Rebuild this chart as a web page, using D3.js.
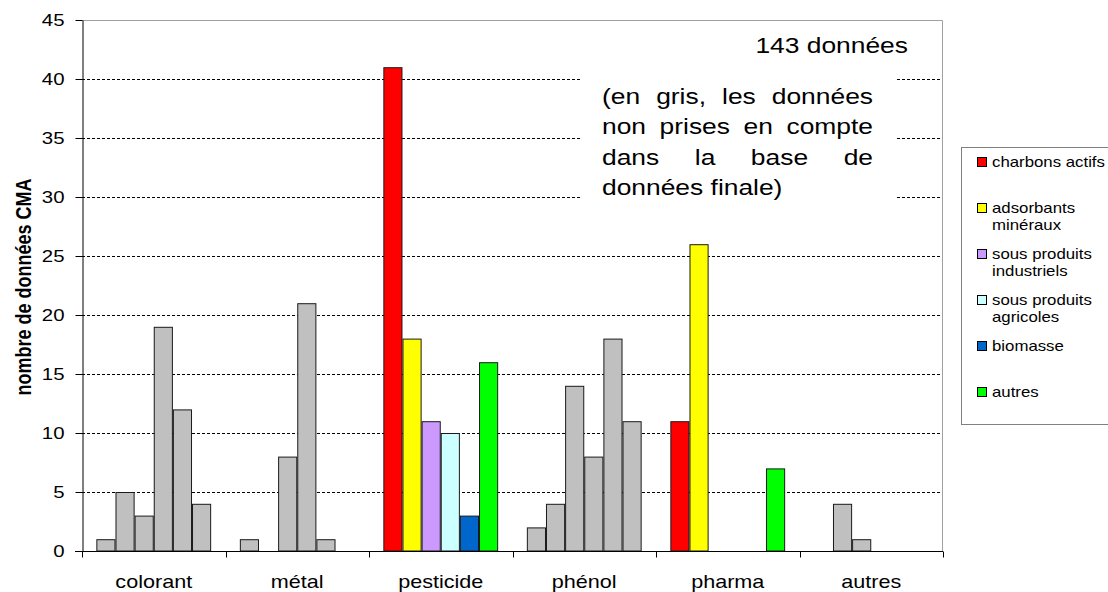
<!DOCTYPE html>
<html>
<head>
<meta charset="utf-8">
<script src="https://cdn.jsdelivr.net/npm/d3@7"></script>
<style>
  body { margin: 0; background: #fff; }
  text { font-family: "Liberation Sans", Arial, sans-serif; fill: #000; }
</style>
</head>
<body>
<div id="chart"></div>
<script>
"use strict";

// data
const categories = ["colorant", "métal", "pesticide", "phénol", "pharma", "autres"];
const seriesNames = ["charbons actifs", "adsorbants minéraux", "sous produits industriels",
                     "sous produits agricoles", "biomasse", "autres"];
const legendLines = [["charbons actifs"], ["adsorbants", "minéraux"],
                     ["sous produits", "industriels"], ["sous produits", "agricoles"],
                     ["biomasse"], ["autres"]];
const charbonsActifs          = [1, 1, 41, 2, 11, 0];
const adsorbantsMineraux      = [5, 0, 18, 4, 26, 4];
const sousProduitsIndustriels = [3, 8, 11, 14, 0, 1];
const sousProduitsAgricoles   = [19, 21, 10, 8, 0, 0];
const biomasse                = [12, 1, 3, 18, 0, 0];
const autres                  = [4, 0, 16, 11, 7, 0];
// grey bars = not kept in the final database
const retained = [false, false, true, false, true, false];
const yTicks = [0, 5, 10, 15, 20, 25, 30, 35, 40, 45];
const noteLines = ["(en gris, les données", "non prises en compte",
                   "dans la base de", "données finale)"];
const yTitle = "nombre de données CMA";

// styles
const seriesColors = ["#ff0000", "#ffff00", "#cc99ff", "#ccffff", "#0066cc", "#00ff00"];
const greyColor = "#c0c0c0";
const SX = 1.2; // the original picture is stretched horizontally

const margin = {
    top   : 20,
    right : 165,
    bottom: 41,
    left  : 82
};
const W = 1108, H = 592;
const width = W - margin.left - margin.right;
const height = H - margin.top - margin.bottom;

const series = [charbonsActifs, adsorbantsMineraux, sousProduitsIndustriels,
                sousProduitsAgricoles, biomasse, autres];
const bars = [];
categories.forEach((c, ci) => series.forEach((s, si) => {
    if (s[ci] > 0) bars.push({ cat: c, ci, si, value: s[ci] });
}));
const total = d3.sum(bars.filter(d => retained[d.ci]), d => d.value);

const x0 = d3.scaleBand()
             .domain(categories)
             .range([0, width])
             .padding(0);
const x1 = d3.scaleBand()
             .domain(d3.range(seriesNames.length))
             .range([0, x0.bandwidth()])
             .paddingInner(0)
             .paddingOuter(0.75);
const y = d3.scaleLinear()
            .domain([0, 45])
            .range([height, 0]);

const svg = d3.select("#chart").append("svg")
              .attr("width", W)
              .attr("height", H);
const plot = svg.append("g")
                .attr("transform", `translate(${margin.left}, ${margin.top})`);

// dashed grid
plot.append("g")
    .selectAll("line")
    .data(yTicks.filter(t => t > 0 && t < 45))
    .join("line")
    .attr("x1", 0)
    .attr("x2", width)
    .attr("y1", d => Math.round(y(d)) + 0.5)
    .attr("y2", d => Math.round(y(d)) + 0.5)
    .attr("stroke", "#000")
    .attr("stroke-width", 1)
    .attr("stroke-dasharray", "3,2");

// white box behind the note
const noteX = 520, noteY = 50;
plot.append("rect")
    .attr("x", noteX - 20)
    .attr("y", noteY)
    .attr("width", 313)
    .attr("height", 145)
    .attr("fill", "#fff");

// bars
plot.append("g")
    .selectAll("rect")
    .data(bars)
    .join("rect")
    .attr("x", d => x0(d.cat) + x1(d.si) + 0.5)
    .attr("y", d => y(d.value) + 0.5)
    .attr("width", x1.bandwidth() - 1)
    .attr("height", d => y(0) - y(d.value) - 0.5)
    .attr("fill", d => retained[d.ci] ? seriesColors[d.si] : greyColor)
    .attr("stroke", "#1a1a1a")
    .attr("stroke-width", 1);

// frame (top / right)
plot.append("path")
    .attr("d", `M0,0.5H${width - 0.5}V${height}`)
    .attr("fill", "none")
    .attr("stroke", "#a0a0a0");

// y axis
const yAxis = plot.append("g")
                  .attr("transform", "translate(0.5, 0)")
                  .call(d3.axisLeft(y).tickValues(yTicks).tickSize(7).tickSizeOuter(0));
yAxis.select(".domain").attr("stroke", "#000");
yAxis.selectAll("text")
     .attr("x", -18 / SX)
     .attr("transform", `scale(${SX},1)`)
     .style("font-size", "17px")
     .style("font-family", "'Liberation Sans', Arial, sans-serif");

// x axis
const xAxis = plot.append("g")
                  .attr("transform", `translate(0, ${height + 0.5})`);
xAxis.append("line")
     .attr("x1", -7)
     .attr("x2", width)
     .attr("stroke", "#000");
xAxis.selectAll("line.tick")
     .data(categories.map(c => x0(c)).concat(width))
     .join("line")
     .attr("class", "tick")
     .attr("x1", d => Math.round(d) + 0.5)
     .attr("x2", d => Math.round(d) + 0.5)
     .attr("y1", 0)
     .attr("y2", 6)
     .attr("stroke", "#000");
xAxis.selectAll("text")
     .data(categories)
     .join("text")
     .attr("text-anchor", "middle")
     .attr("transform", d => `translate(${x0(d) + x0.bandwidth() / 2}, 36) scale(${SX},1)`)
     .style("font-size", "18px")
     .text(d => d);

// y title
svg.append("text")
   .attr("transform", `translate(31, 287) scale(${SX},1) rotate(-90)`)
   .attr("text-anchor", "middle")
   .style("font-size", "18px")
   .style("font-weight", "bold")
   .text(yTitle);

// total label
plot.append("text")
    .attr("transform", `translate(${826}, 33) scale(${SX},1)`)
    .attr("text-anchor", "end")
    .style("font-size", "22px")
    .text(`${total} données`);

// justified note
const justify = (g, lines, lineWidth, lineHeight) => {
    lines.forEach((line, i) => {
        const row = g.append("g")
                     .attr("transform", `translate(0, ${i * lineHeight})`);
        if (i === lines.length - 1) {
            row.append("text").text(line);
            return;
        }
        const words = line.split(" ");
        const texts = words.map(w => row.append("text").text(w));
        const widths = texts.map(t => t.node().getComputedTextLength());
        const gap = (lineWidth - d3.sum(widths)) / (words.length - 1);
        let x = 0;
        texts.forEach((t, j) => {
            t.attr("x", x);
            x += widths[j] + gap;
        });
    });
};
const note = plot.append("g")
                 .attr("transform", `translate(${noteX}, 84) scale(${SX},1)`)
                 .style("font-size", "22px");
justify(note, noteLines, 271 / SX, 30.3);

// legend
const legend = svg.append("g")
                  .attr("transform", "translate(961, 147)");
legend.append("rect")
      .attr("x", 0.5)
      .attr("y", 0.5)
      .attr("width", 170)
      .attr("height", 277)
      .attr("fill", "#fff")
      .attr("stroke", "#808080");
const items = legend.selectAll("g.item")
                    .data(legendLines)
                    .join("g")
                    .attr("class", "item")
                    .attr("transform", (d, i) => `translate(16, ${15 + i * 46})`);
items.append("rect")
     .attr("x", 0.5)
     .attr("y", -4.5)
     .attr("width", 9)
     .attr("height", 9)
     .attr("fill", (d, i) => seriesColors[i])
     .attr("stroke", "#000");
items.append("text")
     .attr("transform", `translate(15, 5) scale(${SX},1)`)
     .style("font-size", "14px")
     .selectAll("tspan")
     .data(d => d)
     .join("tspan")
     .attr("x", 0)
     .attr("dy", (d, i) => i === 0 ? 0 : 17)
     .text(d => d);
</script>
</body>
</html>
